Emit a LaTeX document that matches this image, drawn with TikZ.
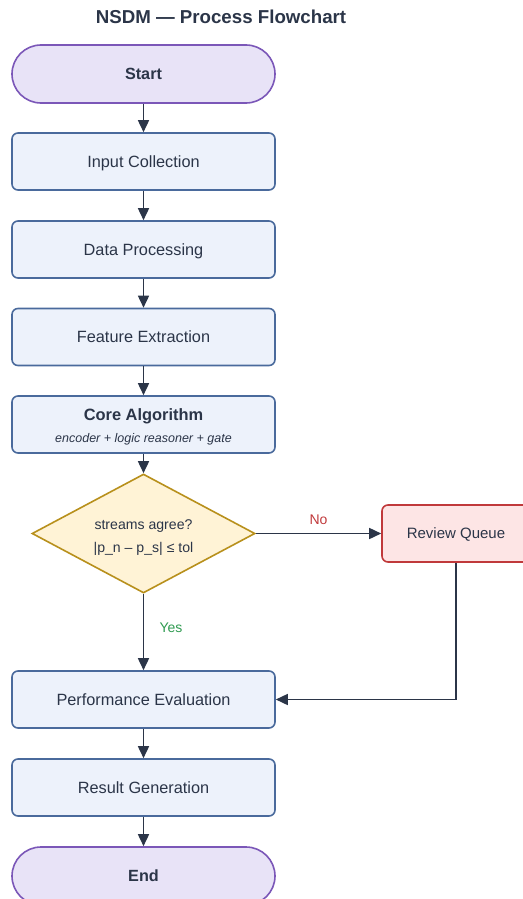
\documentclass[tikz,border=0pt]{standalone}
\usepackage{fontspec}
\setmainfont{Liberation Sans}
\usetikzlibrary{shapes.geometric,arrows.meta}
\definecolor{termfill}{HTML}{E8E3F7}
\definecolor{termline}{HTML}{7B57B8}
\definecolor{procfill}{HTML}{EDF2FB}
\definecolor{procline}{HTML}{4A6A9C}
\definecolor{decfill}{HTML}{FFF3D6}
\definecolor{decline}{HTML}{B8901C}
\definecolor{revfill}{HTML}{FDE5E5}
\definecolor{revline}{HTML}{C0393B}
\definecolor{ink}{HTML}{2B3548}
\definecolor{nored}{HTML}{C0393B}
\definecolor{yesgreen}{HTML}{2E9A50}
\tikzset{
  base/.style={draw, line width=1.6pt, text=ink, font=\fontsize{16.3}{19}\selectfont, inner sep=0pt},
  terminal/.style={base, draw=termline, fill=termfill, rounded corners=29pt,
    minimum width=263pt, minimum height=58pt, text depth=0pt,
    font=\fontsize{16.2}{19}\selectfont\bfseries},
  process/.style={base, draw=procline, fill=procfill, rounded corners=6pt,
    minimum width=263pt, minimum height=57pt, text depth=0pt},
  decision/.style={base, diamond, draw=decline, fill=decfill, aspect=1.87,
    minimum width=223pt, minimum height=119pt, align=center,
    font=\fontsize{14.1}{23}\selectfont},
  review/.style={base, draw=revline, fill=revfill, rounded corners=6pt,
    minimum width=148pt, minimum height=57pt, text depth=0pt,
    font=\fontsize{15}{18}\selectfont},
  flow/.style={draw=ink, line width=1.6pt, -{Triangle[length=12pt,width=11pt]}},
  lbl/.style={font=\fontsize{14}{16}\selectfont},
}
\begin{document}
\begin{tikzpicture}[x=1pt,y=-1pt]
\useasboundingbox (0,0) rectangle (522,899);
\node[font=\fontsize{18.7}{22}\selectfont\bfseries, text=ink] (title) at (221,17) {NSDM — Process Flowchart};
\node[terminal] (start) at (143.5,74) {Start};
\node[process] (input) at (143.5,161.5) {Input Collection};
\node[process] (data) at (143.5,249.5) {Data Processing};
\node[process] (feat) at (143.5,337) {Feature Extraction};
\node[process, align=center, text depth=] (core) at (143.5,424.5)
  {\raisebox{0pt}[16pt][0pt]{\fontsize{16.4}{19}\selectfont\bfseries Core Algorithm}\\[3pt]{\fontsize{12.5}{15}\selectfont\itshape encoder + logic reasoner + gate}};
\node[decision] (dec) at (143.5,533.5) {\raisebox{0pt}[18pt][0pt]{streams agree?}\\|p\_n – p\_s| ≤ tol};
\node[review] (rev) at (456,533.5) {Review Queue};
\node[process] (perf) at (143.5,699.5) {Performance Evaluation};
\node[process] (res) at (143.5,787.5) {Result Generation};
\node[terminal] (end) at (143.5,876) {End};
\coordinate (bend) at (rev.south |- perf.east);
\draw[flow] (start) -- (input);
\draw[flow] (input) -- (data);
\draw[flow] (data) -- (feat);
\draw[flow] (feat) -- (core);
\draw[flow] (core) -- (dec);
\draw[flow] (dec.east) -- node[lbl, text=nored, above=5pt] {No} (rev.west);
\draw[flow] (dec.south) -- node[lbl, text=yesgreen, right=12pt, pos=0.45] {Yes} (perf.north);
\draw[flow] (rev.south) -- (bend) -- (perf.east);
\draw[flow] (perf) -- (res);
\draw[flow] (res) -- (end);
\end{tikzpicture}
\end{document}
